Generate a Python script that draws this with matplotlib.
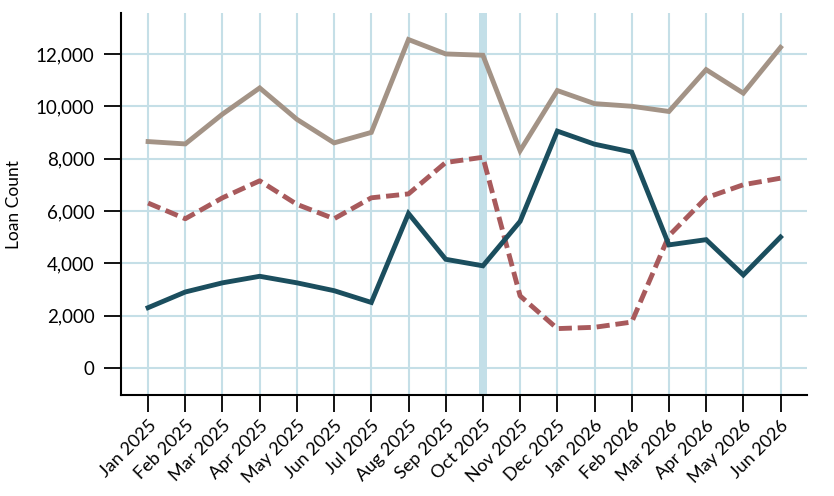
import matplotlib
matplotlib.use('Agg')
import matplotlib.pyplot as plt
from matplotlib.ticker import FuncFormatter
import numpy as np

plt.rcParams['font.family'] = ['Lato', 'DejaVu Sans']

# Data
months = ['Jan 2025', 'Feb 2025', 'Mar 2025', 'Apr 2025', 'May 2025', 'Jun 2025',
          'Jul 2025', 'Aug 2025', 'Sep 2025', 'Oct 2025', 'Nov 2025', 'Dec 2025',
          'Jan 2026', 'Feb 2026', 'Mar 2026', 'Apr 2026', 'May 2026', 'Jun 2026']
total = [8650, 8560, 9700, 10700, 9500, 8600, 9000, 12550, 12000, 11950,
         8300, 10600, 10100, 10000, 9800, 11400, 10500, 12250]
dashed = [6300, 5700, 6500, 7150, 6250, 5700, 6500, 6650, 7850, 8050,
          2750, 1500, 1550, 1750, 5050, 6500, 7000, 7250]
solid = [2300, 2900, 3250, 3500, 3250, 2950, 2500, 5900, 4150, 3900,
         5600, 9050, 8550, 8250, 4700, 4900, 3550, 5000]
highlight_month = 'Oct 2025'

x = np.arange(len(months))
grid_color = '#c5dfe7'

fig = plt.figure(figsize=(8.34, 4.96), dpi=100)
ax = fig.add_axes([0.145, 0.203, 0.823, 0.77])

# highlight band
hx = months.index(highlight_month)
ax.axvspan(hx - 0.11, hx + 0.11, color='#c3dfe8', zorder=1, lw=0)

ax.plot(x, total, color='#a39386', lw=3.5, zorder=3, solid_joinstyle='miter')
ax.plot(x, dashed, color='#a85a5c', lw=3.5, zorder=3, dashes=(2.7, 1.2))
ax.plot(x, solid, color='#1b4e5e', lw=3.5, zorder=4, solid_joinstyle='miter')

ax.set_xlim(-0.73, 17.72)
ax.set_ylim(-1050, 13550)
ax.set_xticks(x)
ax.set_xticklabels(months, rotation=45, ha='right', rotation_mode='anchor', fontsize=13)
ax.set_yticks(np.arange(0, 12001, 2000))
ax.yaxis.set_major_formatter(FuncFormatter(lambda v, p: f'{int(v):,}'))
ax.tick_params(axis='y', labelsize=13.5, length=12, width=1.3, pad=7)
ax.tick_params(axis='x', length=12, width=1.3, pad=4)

ax.grid(True, color=grid_color, lw=1.5, zorder=0)
ax.set_axisbelow(True)
for s in ['top', 'right']:
    ax.spines[s].set_visible(False)
for s in ['left', 'bottom']:
    ax.spines[s].set_linewidth(1.5)

ax.set_ylabel('Loan Count', fontsize=12.5, labelpad=10)

fig.savefig('out.png', dpi=100)
